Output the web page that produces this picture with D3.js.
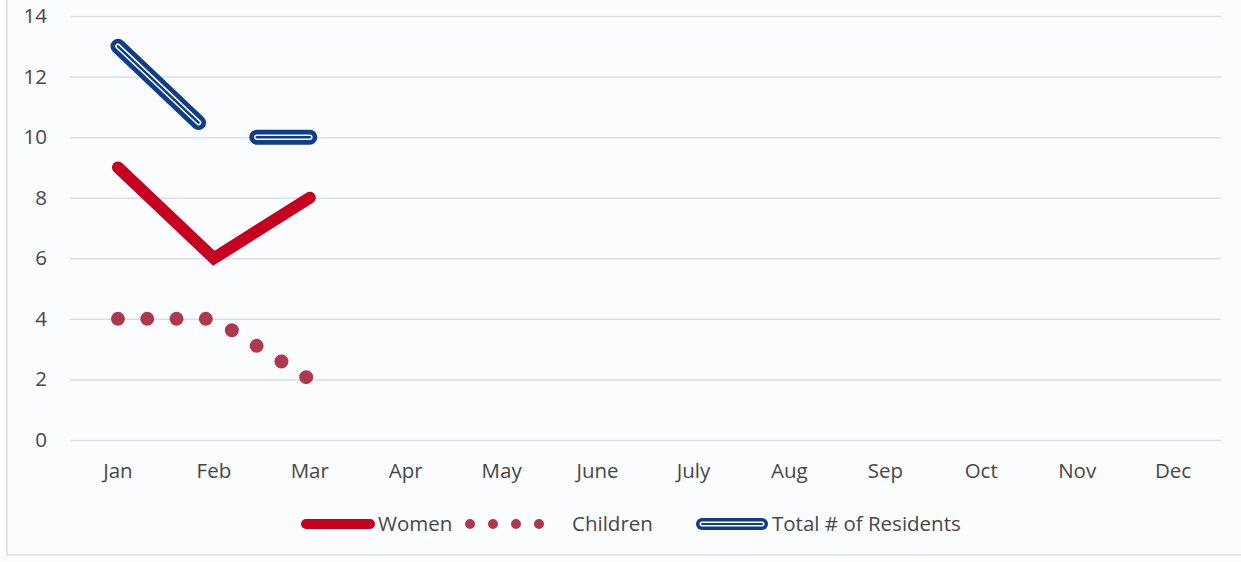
<!DOCTYPE html>
<html>
<head>
<meta charset="utf-8">
<script src="https://cdn.jsdelivr.net/npm/d3@7"></script>
<style>
  html, body { margin: 0; padding: 0; background: #fbfcfe; }
  svg { display: block; }
</style>
</head>
<body>
<svg id="chart" width="1241" height="562"></svg>
<script>
// chart data
const months = ["Jan", "Feb", "Mar", "Apr", "May", "June", "July", "Aug", "Sep", "Oct", "Nov", "Dec"];
const women = [9, 6, 8];
const children = [4, 4, 2];
const totalResidents = [13, 10, 10];
const yTicks = [0, 2, 4, 6, 8, 10, 12, 14];
const seriesNames = ["Women", "Children", "Total # of Residents"];

const plotLeft = 70, plotRight = 1221, plotTop = 16, plotBottom = 440;
const font = "'Open Sans', 'Liberation Sans', sans-serif";
const fontSize = "20.5px";
const textColor = "#474747";

const svg = d3.select("#chart");

// faint frame of the scanned page
svg.append("rect")
    .attr("x", 7).attr("y", -2)
    .attr("width", 1240).attr("height", 557)
    .attr("fill", "#fbfcfe")
    .attr("stroke", "#dcdfe3").attr("stroke-width", 1.5);

const x = d3.scaleBand().domain(months).range([plotLeft, plotRight]).padding(0);
const y = d3.scaleLinear().domain([0, 14]).range([plotBottom, plotTop]);

// gridlines
const yAxis = d3.axisLeft(y).tickValues(yTicks).tickSize(-(plotRight - plotLeft)).tickPadding(23);
const gy = svg.append("g").attr("transform", "translate(" + plotLeft + ",0)").call(yAxis);
gy.select(".domain").remove();
gy.selectAll(".tick line").attr("stroke", "#d9dee6").attr("stroke-width", 1.5);
gy.selectAll(".tick text")
    .attr("fill", textColor)
    .attr("font-family", font)
    .attr("font-size", fontSize);

// month labels
const xAxis = d3.axisBottom(x).tickSize(0).tickPadding(23);
const gx = svg.append("g").attr("transform", "translate(0," + plotBottom + ")").call(xAxis);
gx.select(".domain").remove();
gx.selectAll(".tick text")
    .attr("fill", textColor)
    .attr("font-family", font)
    .attr("font-size", fontSize);

const xc = (d, i) => x(months[i]) + x.bandwidth() / 2;
const line = d3.line().x(xc).y(d => y(d));

// total residents: long dash, double line
const totalStyles = [
    { color: "#0f3d87", w: 15 },
    { color: "#ffffff", w: 5.5 },
    { color: "#0f3d87", w: 2.5 }
];
totalStyles.forEach(s => {
    svg.append("path")
        .datum(totalResidents)
        .attr("d", line)
        .attr("fill", "none")
        .attr("stroke", s.color)
        .attr("stroke-width", s.w)
        .attr("stroke-linecap", "round")
        .attr("stroke-linejoin", "round")
        .attr("stroke-dasharray", "111,64");
});

// women
svg.append("path")
    .datum(women)
    .attr("d", line)
    .attr("fill", "none")
    .attr("stroke", "#c8001f")
    .attr("stroke-width", 12)
    .attr("stroke-linecap", "round")
    .attr("stroke-linejoin", "miter");

// children: round dots
svg.append("path")
    .datum(children)
    .attr("d", line)
    .attr("fill", "none")
    .attr("stroke", "#b0384e")
    .attr("stroke-width", 14)
    .attr("stroke-linecap", "round")
    .attr("stroke-dasharray", "0,29.3");

// legend
const ly = 524;
const legend = svg.append("g").attr("font-family", font).attr("font-size", fontSize).attr("fill", textColor);

legend.append("line")
    .attr("x1", 306).attr("x2", 370).attr("y1", ly).attr("y2", ly)
    .attr("stroke", "#c8001f").attr("stroke-width", 10).attr("stroke-linecap", "round");
legend.append("text").attr("x", 378).attr("y", ly + 7).text(seriesNames[0]);

legend.append("line")
    .attr("x1", 470).attr("x2", 556).attr("y1", ly).attr("y2", ly)
    .attr("stroke", "#b0384e").attr("stroke-width", 10).attr("stroke-linecap", "round")
    .attr("stroke-dasharray", "0,23");
legend.append("text").attr("x", 572).attr("y", ly + 7).text(seriesNames[1]);

[{ c: "#0f3d87", w: 12 }, { c: "#ffffff", w: 5 }, { c: "#0f3d87", w: 2 }].forEach(s => {
    legend.append("line")
        .attr("x1", 702).attr("x2", 762).attr("y1", ly).attr("y2", ly)
        .attr("stroke", s.c).attr("stroke-width", s.w).attr("stroke-linecap", "round");
});
legend.append("text").attr("x", 772).attr("y", ly + 7).text(seriesNames[2]);
</script>
</body>
</html>
